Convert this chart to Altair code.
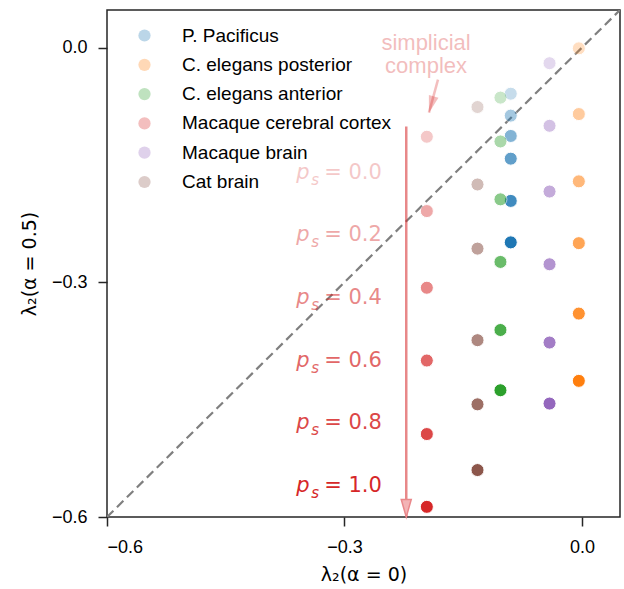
import altair as alt
import pandas as pd

# ---------------- data ----------------
series = ["P. Pacificus", "C. elegans posterior", "C. elegans anterior",
          "Macaque cerebral cortex", "Macaque brain", "Cat brain"]
colors = ["#1f77b4", "#ff7f0e", "#2ca02c", "#d62728", "#9467bd", "#8c564b"]
ps_values = [0.0, 0.2, 0.4, 0.6, 0.8, 1.0]

# lambda_2(alpha=0) for each network (same for every p_s)
x_pacificus = -0.090
x_posterior = -0.004
x_anterior = -0.103
x_cortex = -0.196
x_mbrain = -0.041
x_cat = -0.132

# lambda_2(alpha=0.5) for p_s = 0.0 ... 1.0
y_pacificus = [-0.059, -0.087, -0.113, -0.142, -0.196, -0.249]
y_posterior = [-0.001, -0.085, -0.171, -0.250, -0.340, -0.426]
y_anterior = [-0.064, -0.120, -0.194, -0.274, -0.361, -0.438]
y_cortex = [-0.114, -0.209, -0.307, -0.400, -0.494, -0.587]
y_mbrain = [-0.020, -0.100, -0.184, -0.277, -0.377, -0.455]
y_cat = [-0.076, -0.175, -0.257, -0.374, -0.456, -0.540]

x_vals = [x_pacificus, x_posterior, x_anterior, x_cortex, x_mbrain, x_cat]
y_vals = [y_pacificus, y_posterior, y_anterior, y_cortex, y_mbrain, y_cat]

# p_s label positions (annotation)
label_y = [-0.16, -0.24, -0.32, -0.40, -0.48, -0.56]
label_text = ["= 0.0", "= 0.2", "= 0.4", "= 0.6", "= 0.8", "= 1.0"]
label_x = -0.327

# arrows / annotation
arrow_x = -0.222
arrow_top = -0.101
arrow_bottom = -0.6
small_arrow = {"x": -0.1819, "y": -0.0409, "x2": -0.1933, "y2": -0.0832}
ann_x = -0.197
ann_lines = ["simplicial", "complex"]
ann_y = [0.0064, -0.023]

x_ticks = [-0.6, -0.3, 0.0]
y_ticks = [-0.6, -0.3, 0.0]
dom = [-0.6, 0.048]

# ---------------- tables ----------------
rows = []
for s, xv, ys in zip(series, x_vals, y_vals):
    for p, yv in zip(ps_values, ys):
        rows.append({"series": s, "ps": p, "x": xv, "y": yv})
pts = pd.DataFrame(rows)
pts["order"] = pts["series"].map({s: i for i, s in enumerate(series)})

labels = pd.DataFrame({"ps": ps_values, "y": label_y, "t": label_text, "x": label_x})
diag = pd.DataFrame({"x": dom, "y": dom})
arrow = pd.DataFrame({"x": [arrow_x], "y": [arrow_top], "y2": [arrow_bottom]})
sarrow = pd.DataFrame([small_arrow])
ann = pd.DataFrame({"x": ann_x, "y": ann_y, "t": ann_lines})

xs = alt.Scale(domain=dom, nice=False, zero=False)
ys_ = alt.Scale(domain=dom, nice=False, zero=False)
X = alt.X("x:Q", scale=xs, axis=alt.Axis(values=x_ticks, format=".1f",
          title="λ₂(α = 0)"))
Y = alt.Y("y:Q", scale=ys_, axis=alt.Axis(values=y_ticks, format=".1f",
          title="λ₂(α = 0.5)"))
Xn = alt.X("x:Q", scale=xs)
Yn = alt.Y("y:Q", scale=ys_)

op_scale = alt.Scale(domain=[0, 1], range=[0.25, 1])

base_diag = alt.Chart(diag).mark_line(
    color="#7f7f7f", strokeWidth=2.2, strokeDash=[9, 5], clip=True
).encode(x=X, y=Y)

points = alt.Chart(pts).mark_point(
    filled=True, size=170, stroke="white", strokeWidth=1
).encode(
    x=Xn, y=Yn,
    color=alt.Color("series:N", scale=alt.Scale(domain=series, range=colors),
                    sort=series,
                    legend=alt.Legend(title=None, orient="none", legendX=28, legendY=16,
                                      labelFontSize=19, labelFont="Liberation Sans",
                                      labelColor="black", symbolOpacity=0.3,
                                      symbolSize=150, symbolStrokeWidth=0,
                                      labelLimit=0,
                                      rowPadding=9.3, labelOffset=28, symbolType="circle")),
    opacity=alt.Opacity("ps:Q", scale=op_scale, legend=None),
    order=alt.Order("order:Q"),
)

red = "#d62728"
lab_common = dict(color=red, baseline="middle", font="DejaVu Sans")
lab_p = alt.Chart(labels).mark_text(fontSize=21, fontStyle="italic", align="left", dx=-27, **lab_common).encode(
    x=Xn, y=Yn, text=alt.value("p"),
    opacity=alt.Opacity("ps:Q", scale=op_scale, legend=None))
lab_s = alt.Chart(labels).mark_text(fontSize=15, fontStyle="italic", align="left", dx=-12, dy=7, **lab_common).encode(
    x=Xn, y=Yn, text=alt.value("s"),
    opacity=alt.Opacity("ps:Q", scale=op_scale, legend=None))
lab_eq = alt.Chart(labels).mark_text(fontSize=21, align="left", dx=1, **lab_common).encode(
    x=Xn, y=Yn, text="t:N",
    opacity=alt.Opacity("ps:Q", scale=op_scale, legend=None))

arrow_line = alt.Chart(arrow).mark_rule(color=red, opacity=0.55, strokeWidth=2.5).encode(
    x=Xn, y=Yn, y2="y2:Q")
head_shape = "M0,0L-0.5,-1.75L0.5,-1.75Z"
arrow_head = alt.Chart(arrow).mark_point(
    shape=head_shape, size=400, filled=True, fill="#f3b3b5", stroke="#e9888b",
    strokeWidth=1.5, opacity=1
).encode(x=Xn, y=alt.Y("y2:Q", scale=ys_))

s_line = alt.Chart(sarrow).mark_rule(color=red, opacity=0.3, strokeWidth=2.5).encode(
    x=Xn, y=Yn, x2="x2:Q", y2="y2:Q")
s_head = alt.Chart(sarrow).mark_point(
    shape="M0,0L-0.5,-1.7L0.5,-1.7Z", size=400, filled=True, color=red, opacity=0.3, angle=16
).encode(x=alt.X("x2:Q", scale=xs), y=alt.Y("y2:Q", scale=ys_))

ann_text = alt.Chart(ann).mark_text(fontSize=22, font="Liberation Sans", color=red, opacity=0.3,
                                    baseline="middle", align="center").encode(
    x=Xn, y=Yn, text="t:N")

chart = alt.layer(
    base_diag, arrow_line, arrow_head, s_line, s_head, ann_text,
    lab_p, lab_s, lab_eq, points
).properties(
    width=513, height=507,
    padding={"left": 107, "top": 10, "right": 4, "bottom": 72},
    autosize="none",
).configure_view(
    stroke="#262626", strokeWidth=1.5
).configure_axis(
    domain=False, grid=False,
    tickColor="#262626", tickWidth=1.5, tickSize=9,
    labelFont="Liberation Sans", labelFontSize=18, labelColor="black",
    titleFont="DejaVu Sans", titleFontSize=19, titleFontWeight="normal", titleColor="black",
).configure_axisX(labelPadding=12, titlePadding=9).configure_axisY(labelPadding=11, titlePadding=12)

chart.save("out.html", embed_options={"renderer": "svg", "actions": False})
